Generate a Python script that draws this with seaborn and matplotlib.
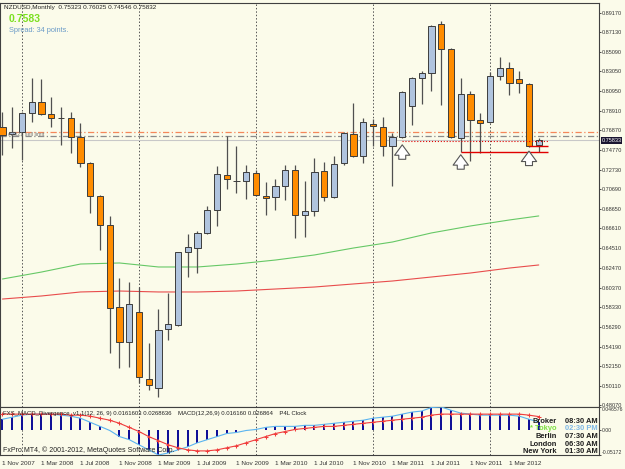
import numpy as np
import pandas as pd
import seaborn as sns
import matplotlib.pyplot as plt
from matplotlib.transforms import blended_transform_factory

sns.set_style('white')
plt.rcParams['font.family'] = ['Liberation Sans', 'DejaVu Sans']

# monthly NZDUSD, Nov 2007 .. Jun 2012
months = pd.date_range('2007-11-01', '2012-06-01', freq='MS')
opens = [0.7722, 0.7648, 0.7669, 0.7869, 0.7984, 0.7858, 0.7820, 0.7816, 0.7617, 0.7344,
         0.6998, 0.6694, 0.5834, 0.5467, 0.5782, 0.5079, 0.4985, 0.5604, 0.5646, 0.6411,
         0.6453, 0.6610, 0.6852, 0.7218, 0.7160, 0.7155, 0.7239, 0.6998, 0.6988, 0.7103,
         0.7271, 0.6799, 0.6841, 0.7260, 0.6988, 0.7344, 0.7648, 0.7418, 0.7753, 0.7722,
         0.7523, 0.7617, 0.7942, 0.8236, 0.8288, 0.8802, 0.8540, 0.7606, 0.8068, 0.7795,
         0.7774, 0.8256, 0.8341, 0.8225, 0.8173, 0.75323]
highs = [0.7879, 0.7931, 0.7879, 0.8236, 0.8225, 0.8036, 0.7931, 0.7879, 0.7764, 0.7350,
         0.7005, 0.6789, 0.6139, 0.6097, 0.6044, 0.5457, 0.5813, 0.5981, 0.6411, 0.6600,
         0.6631, 0.6893, 0.7313, 0.7627, 0.7523, 0.7323, 0.7271, 0.7145, 0.7176, 0.7323,
         0.7323, 0.7155, 0.7397, 0.7355, 0.7418, 0.7669, 0.7973, 0.7816, 0.7806, 0.7827,
         0.7659, 0.8099, 0.8246, 0.8309, 0.8791, 0.8833, 0.8545, 0.8236, 0.8099, 0.7869,
         0.8298, 0.8456, 0.8403, 0.8309, 0.8178, 0.76025]
lows = [0.7428, 0.7502, 0.7376, 0.7774, 0.7848, 0.7722, 0.7533, 0.7449, 0.7302, 0.6820,
        0.6432, 0.5352, 0.5195, 0.5205, 0.5038, 0.4966, 0.4890, 0.5488, 0.5630, 0.6149,
        0.6191, 0.6600, 0.6684, 0.7072, 0.7030, 0.6967, 0.6998, 0.6799, 0.6852, 0.6956,
        0.6558, 0.6568, 0.6789, 0.6946, 0.6977, 0.7323, 0.7407, 0.7344, 0.7523, 0.7418,
        0.7103, 0.7606, 0.7743, 0.7963, 0.8099, 0.7952, 0.7606, 0.7460, 0.7365, 0.7449,
        0.7764, 0.8215, 0.8057, 0.8078, 0.7512, 0.74546]
closes = [0.7638, 0.7669, 0.7869, 0.7984, 0.7858, 0.7816, 0.7812, 0.7617, 0.7344, 0.6998,
          0.6694, 0.5824, 0.5467, 0.5866, 0.5100, 0.5016, 0.5593, 0.5656, 0.6411, 0.6464,
          0.6610, 0.6852, 0.7229, 0.7177, 0.7152, 0.7250, 0.7009, 0.6977, 0.7103, 0.7271,
          0.6799, 0.6841, 0.7250, 0.6988, 0.7334, 0.7659, 0.7418, 0.7774, 0.7732, 0.7523,
          0.7617, 0.8089, 0.8236, 0.8288, 0.8781, 0.8540, 0.7617, 0.8068, 0.7795, 0.7764,
          0.8256, 0.8341, 0.8183, 0.8183, 0.7523, 0.75832]

# moving averages read every 4 months
ma_idx = [0, 4, 8, 12, 16, 20, 24, 28, 32, 36, 40, 44, 48, 52, 55]
ma_green = [0.6128, 0.6201, 0.6285, 0.6296, 0.6254, 0.6254, 0.6285, 0.6327, 0.6380,
            0.6453, 0.6516, 0.6611, 0.6684, 0.6747, 0.6789]
ma_red = [0.5918, 0.5950, 0.5992, 0.6002, 0.5992, 0.5992, 0.6002, 0.6023, 0.6044,
          0.6076, 0.6107, 0.6149, 0.6191, 0.6243, 0.6275]

# MACD main / signal
macd = [0.0215, 0.0257, 0.0299, 0.0320, 0.0320, 0.0320, 0.0299, 0.0278, 0.0236, 0.0153,
        0.0069, -0.0015, -0.0140, -0.0203, -0.0308, -0.0412, -0.0517, -0.0475, -0.0412, -0.0349,
        -0.0266, -0.0203, -0.0140, -0.0077, -0.0056, -0.0015, 0.0006, 0.0048, 0.0069, 0.0069,
        0.0069, 0.0090, 0.0090, 0.0111, 0.0132, 0.0153, 0.0174, 0.0195, 0.0236, 0.0257,
        0.0278, 0.0320, 0.0362, 0.0383, 0.0455, 0.0466, 0.0400, 0.0341, 0.0320, 0.0299,
        0.0299, 0.0299, 0.0299, 0.0278, 0.0215, 0.0162]
signal = [0.0320, 0.0320, 0.0320, 0.0320, 0.0320, 0.0320, 0.0320, 0.0299, 0.0299, 0.0278,
          0.0236, 0.0195, 0.0132, 0.0048, -0.0036, -0.0140, -0.0224, -0.0308, -0.0370, -0.0412,
          -0.0433, -0.0433, -0.0412, -0.0370, -0.0328, -0.0266, -0.0203, -0.0140, -0.0077, -0.0036,
          0.0006, 0.0027, 0.0048, 0.0069, 0.0069, 0.0090, 0.0111, 0.0132, 0.0153, 0.0174,
          0.0195, 0.0215, 0.0236, 0.0257, 0.0299, 0.0320, 0.0320, 0.0320, 0.0320, 0.0320,
          0.0320, 0.0320, 0.0320, 0.0320, 0.0299, 0.0269]

price_ticks = [0.89170, 0.87130, 0.85090, 0.83050, 0.80950, 0.78910, 0.76870, 0.74770,
               0.72730, 0.70690, 0.68650, 0.66610, 0.64510, 0.62470, 0.60370, 0.58330,
               0.56290, 0.54190, 0.52150, 0.50110, 0.48070]

# order lines / arrows
sell_limit = 0.7669
pending = 0.7627
bid = 0.75832
arrow_months = [41, 47, 54]
arrow_tips = [0.7564, 0.7460, 0.7498]
sup_lines = [(41, 0.7572, ':'), (47, 0.7460, '-'), (54, 0.7522, '-')]
sup_end = 55.95

clock_city = ['Broker', '* Tokyo', 'Berlin', 'London', 'New York']
clock_time = ['08:30 AM', '02:30 PM', '07:30 AM', '06:30 AM', '01:30 AM']

bg = '#FBFBEA'
up_col = '#B0C4DE'
dn_col = '#FF8C00'
edge = '#3C3C3C'

idx = np.arange(len(months))
o = np.array(opens); c = np.array(closes)

fig = plt.figure(figsize=(6.25, 4.69), dpi=100)
fig.patch.set_facecolor(bg)
W = 599
ax = fig.add_axes([0, 62/469, W/625, 404/469])
ax2 = fig.add_axes([0, 14/469, W/625, 48/469])
for a in (ax, ax2):
    a.set_facecolor(bg)
    for s in a.spines.values():
        s.set_color('#404040')
        s.set_linewidth(0.8)
    a.set_xlim(-0.256, (W - 2.5) / 9.75)
    for yr in [2, 14, 26, 38, 50]:
        a.axvline(yr, color='#555555', lw=0.7, ls=(0, (1.5, 2)), zorder=0)

# candles
ax.vlines(idx, lows, highs, color='#505050', lw=0.9, zorder=2)
cols = [up_col if cc >= oo else dn_col for oo, cc in zip(o, c)]
ax.bar(idx, np.maximum(np.abs(c - o), 0.0004), bottom=np.minimum(o, c), width=0.62,
       color=cols, edgecolor=edge, lw=0.7, zorder=3)

sns.lineplot(x=ma_idx, y=ma_green, ax=ax, color='#66C866', lw=0.8, zorder=1)
sns.lineplot(x=ma_idx, y=ma_red, ax=ax, color='#E84C4C', lw=0.8, zorder=1)

ax.axhline(sell_limit, color='#F4875A', lw=0.9, ls=(0, (5, 2, 1, 2)), zorder=1)
ax.axhline(pending, color='#8A8A8A', lw=0.9, ls=(0, (5, 2, 1, 2)), zorder=1)
ax.axhline(bid, color='#C8C8C8', lw=0.8, zorder=1)
ax.text(0.6, 0.7648, '#2321 sell limit', fontsize=4, color='#777777', va='center')

for m, p, st in sup_lines:
    ax.hlines(p, m, sup_end, color='#E00000', lw=1.0 if st == '-' else 0.8, ls=st, zorder=4)
for m, p in zip(arrow_months, arrow_tips):
    ax.annotate('', xy=(m, p), xytext=(m, p - 0.021),
                arrowprops=dict(arrowstyle='simple,head_width=1.1,head_length=0.75,tail_width=0.5',
                                fc='white', ec='#555555', lw=0.8), zorder=5)

ax.set_ylim(0.47859, 0.90218)
ax.yaxis.tick_right()
ax.set_yticks(price_ticks)
ax.set_yticklabels(['%.5f' % t for t in price_ticks])
ax.tick_params(axis='y', labelsize=4.0, length=1.6, width=0.6, pad=0.6, colors='#333333')
ax.tick_params(axis='x', bottom=False, labelbottom=False)
ax.set_xlabel(''); ax.set_ylabel('')
tr = blended_transform_factory(ax.transAxes, ax.transData)
ax.text(1.004, bid, '0.75833', transform=tr, fontsize=4.0, color='white', va='center',
        ha='left', bbox=dict(boxstyle='square,pad=0.15', fc='#1A1530', ec='none'))

# MACD panel
ax2.vlines(idx, 0, macd, color='#0A0A96', lw=1.4, zorder=2)
sns.lineplot(x=idx, y=macd, ax=ax2, color='#5AB4F0', lw=0.8, zorder=3)
sns.lineplot(x=idx, y=signal, ax=ax2, color='#F03C3C', lw=0.8, zorder=3,
             marker='+', markersize=2.5, markeredgecolor='#F03C3C')
ax2.set_ylim(-0.05172, 0.046576)
ax2.yaxis.tick_right()
ax2.set_yticks([0.046576, 0.0, -0.05172])
ax2.set_yticklabels(['0.046576', '0.00', '-0.05172'])
ax2.tick_params(axis='y', labelsize=3.7, length=1.6, width=0.6, pad=0.6, colors='#333333')
ylabs = ax2.get_yticklabels()
ylabs[0].set_va('top')
ylabs[2].set_va('bottom')
ticks = list(range(0, 56, 4))
ax2.set_xticks(ticks)
ax2.set_xticklabels(['1 ' + months[t].strftime('%b %Y') for t in ticks], ha='left')
ax2.tick_params(axis='x', labelsize=4.6, length=2.5, width=0.6, pad=2, colors='#333333')
ax2.set_xlabel(''); ax2.set_ylabel('')
ax2.text(0.005, 0.87, 'FXS_MACD_Divergence_v1.1(12, 26, 9) 0.0161603 0.0268636    '
         'MACD(12,26,9) 0.016160 0.026864    P4L Clock', transform=ax2.transAxes,
         fontsize=4.3, color='#222222', va='center')
ax2.text(0.005, 0.1, 'FxPro MT4, \u00a9 2001-2012, MetaQuotes Software Corp.',
         transform=ax2.transAxes, fontsize=5, color='#222222', va='center')

# clock
for k, (city, tm) in enumerate(zip(clock_city, clock_time)):
    yy = 1 - (421 + 7.7 * k) / 469
    fig.text(557 / 625, yy, city, fontsize=5.4, weight='bold', ha='right', va='center',
             color='#7CE040' if k == 1 else '#1E1E1E')
    fig.text(565 / 625, yy, tm, fontsize=5.4, weight='bold', ha='left', va='center',
             color='#7EB8E6' if k == 1 else '#1E1E1E')

# header
fig.text(4 / 625, 1 - 7 / 469, 'NZDUSD,Monthly  0.75323 0.76025 0.74546 0.75832',
         fontsize=4.6, color='#222222', va='center')
fig.text(9 / 625, 1 - 19 / 469, '0.7583', fontsize=7.5, weight='bold', color='#7CE020', va='center')
fig.text(9 / 625, 1 - 31 / 469, 'Spread: 34 points.', fontsize=5.3, color='#6A9BC8', va='center')

fig.savefig('out.png', dpi=100, facecolor=bg)
